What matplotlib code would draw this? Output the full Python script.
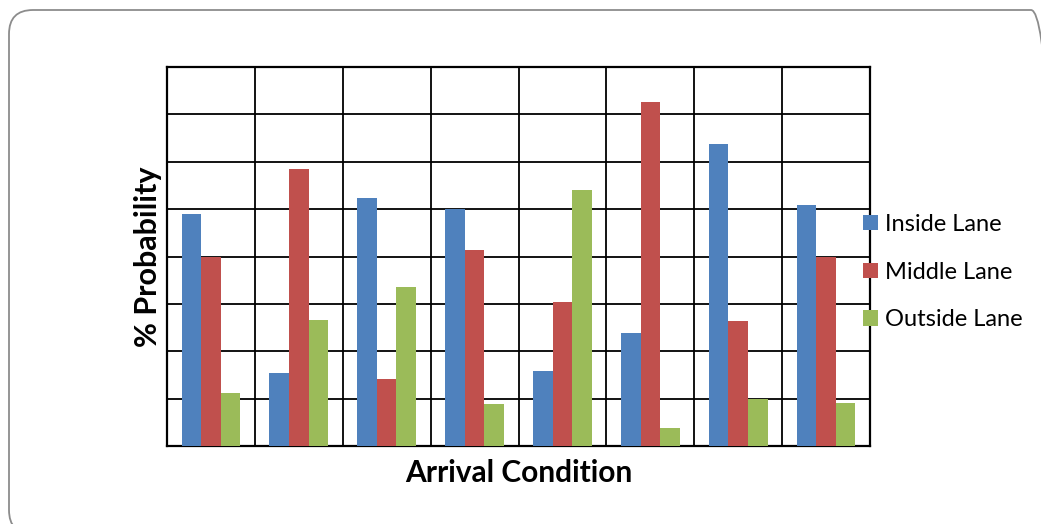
import matplotlib.pyplot as plt
import numpy as np
from matplotlib.patches import FancyBboxPatch

plt.rcParams['font.family'] = ['Lato', 'DejaVu Sans']

# probability (%) of each lane for the eight arrival conditions
inside = [49.0, 15.4, 52.4, 50.0, 15.8, 23.9, 63.7, 50.9]
middle = [39.9, 58.4, 14.2, 41.4, 30.3, 72.7, 26.3, 39.9]
outside = [11.1, 26.5, 33.6, 8.8, 54.0, 3.7, 10.0, 9.0]
series = ['Inside Lane', 'Middle Lane', 'Outside Lane']
colors = ['#4F81BD', '#C0504D', '#9BBB59']

fig = plt.figure(figsize=(10.41, 5.24), dpi=100)
ax = fig.add_axes([167 / 1041, 1 - 446 / 524, 703 / 1041, 379 / 524])

# rounded chart-area frame
frame = FancyBboxPatch((0.09, -0.10), 10.46, 5.24,
                       boxstyle='round,pad=0,rounding_size=0.24',
                       transform=fig.dpi_scale_trans, fc='none',
                       ec='#8c8c8c', lw=1.3, clip_on=False)
fig.patches.append(frame)

x = np.arange(len(inside))
w = 0.223
for i, (vals, c, name) in enumerate(zip([inside, middle, outside], colors, series)):
    ax.bar(x + (i - 1) * w, vals, w, color=c, label=name, zorder=3)

ax.set_xlim(-0.5, len(inside) - 0.5)
ax.set_ylim(0, 80)
ax.set_yticks(np.arange(0, 81, 10))
ax.set_xticks(np.arange(-0.5, len(inside), 1))
ax.set_xticklabels([])
ax.set_yticklabels([])
ax.tick_params(length=0)
ax.grid(True, color='black', lw=1.3, zorder=0)
ax.set_axisbelow(True)
for s in ax.spines.values():
    s.set_color('black')
    s.set_linewidth(1.6)

ax.set_xlabel('Arrival Condition', fontsize=21.5, fontweight='bold', labelpad=6)
ax.set_ylabel('% Probability', fontsize=22, fontweight='bold', labelpad=0)

leg = ax.legend(loc='center left', bbox_to_anchor=(0.99, 0.459), frameon=False,
                fontsize=17, handlelength=0.62, handleheight=0.62,
                handletextpad=0.3, labelspacing=1.13, borderpad=0,
                borderaxespad=0)
leg.set_zorder(5)

fig.savefig('out.png', dpi=100)
